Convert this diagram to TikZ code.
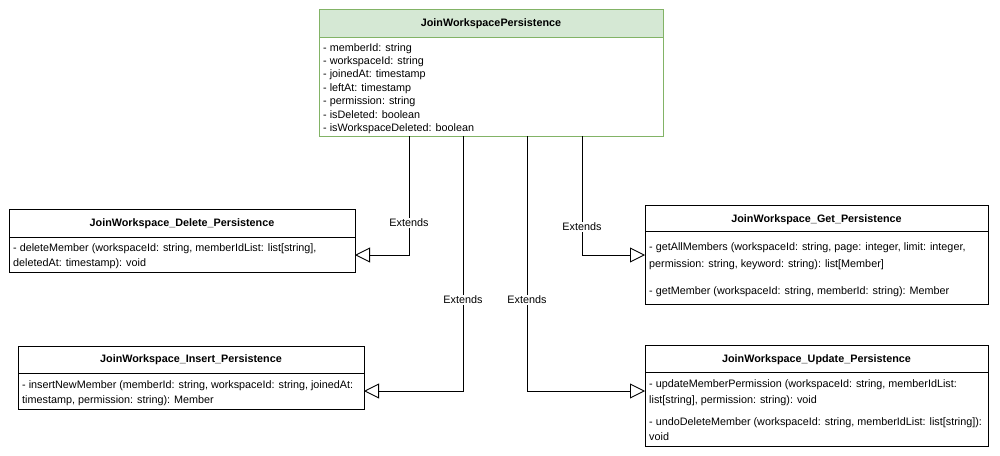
\documentclass[tikz,border=0pt]{standalone}
\usepackage{fontspec}
\setmainfont{Liberation Sans}
\usetikzlibrary{arrows.meta}
\definecolor{hdrfill}{HTML}{D5E8D4}
\definecolor{hdrline}{HTML}{82B366}
\tikzset{
  box/.style={draw=black, line width=0.9pt, fill=white},
  gbox/.style={draw=hdrline, line width=0.9pt, fill=white},
  ttl/.style={font=\fontsize{10.8}{13}\selectfont\bfseries, anchor=base, inner sep=0pt},
  txt/.style={font=\fontsize{10.8}{13}\selectfont, anchor=base west, inner sep=0pt},
  ext/.style={draw=black, line width=0.9pt, -{Triangle[open,length=15pt,width=15pt]}},
  lbl/.style={font=\fontsize{10.8}{13}\selectfont, fill=white, inner sep=1.5pt}
}
\begin{document}
\begin{tikzpicture}[x=1pt,y=-1pt]
\useasboundingbox (0,0) rectangle (1000,455);
% top class
\path[gbox] (319,9) rectangle (663,136);
\path[fill=hdrfill, draw=hdrline, line width=0.9pt] (319,9) rectangle (663,37);
\node[ttl] (ttop) at (491,26) {JoinWorkspacePersistence};
\node[txt] (a1) at (323,51) {- memberId: string};
\node[txt] (a2) at (323,64.4) {- workspaceId: string};
\node[txt] (a3) at (323,77.8) {- joinedAt: timestamp};
\node[txt] (a4) at (323,91.2) {- leftAt: timestamp};
\node[txt] (a5) at (323,104.6) {- permission: string};
\node[txt] (a6) at (323,118) {- isDeleted: boolean};
\node[txt] (a7) at (323,131.4) {- isWorkspaceDeleted: boolean};
% delete
\path[box] (9,209) rectangle (355,272);
\draw[line width=0.9pt] (9,237) -- (355,237);
\node[ttl] (tdel) at (182,226) {JoinWorkspace\_Delete\_Persistence};
\node[txt] (d1) at (13,251) {- deleteMember (workspaceId: string, memberIdList: list[string],};
\node[txt] (d2) at (13,266) {deletedAt: timestamp): void};
% get
\path[box] (645,205) rectangle (988,304);
\draw[line width=0.9pt] (645,231) -- (988,231);
\node[ttl] (tget) at (816.5,222) {JoinWorkspace\_Get\_Persistence};
\node[txt] (g1) at (649,250) {- getAllMembers (workspaceId: string, page: integer, limit: integer,};
\node[txt] (g2) at (649,267) {permission: string, keyword: string): list[Member]};
\node[txt] (g3) at (649,294) {- getMember (workspaceId: string, memberId: string): Member};
% insert
\path[box] (18,346) rectangle (364,409);
\draw[line width=0.9pt] (18,373) -- (364,373);
\node[ttl] (tins) at (191,362) {JoinWorkspace\_Insert\_Persistence};
\node[txt] (i1) at (22,388) {- insertNewMember (memberId: string, workspaceId: string, joinedAt:};
\node[txt] (i2) at (22,403) {timestamp, permission: string): Member};
% update
\path[box] (645,345) rectangle (988,446);
\draw[line width=0.9pt] (645,372) -- (988,372);
\node[ttl] (tupd) at (816.5,362) {JoinWorkspace\_Update\_Persistence};
\node[txt] (u1) at (649,387) {- updateMemberPermission (workspaceId: string, memberIdList:};
\node[txt] (u2) at (649,403) {list[string], permission: string): void};
\node[txt] (u3) at (649,425) {- undoDeleteMember (workspaceId: string, memberIdList: list[string]):};
\node[txt] (u4) at (649,440) {void};
% connector endpoints
\coordinate (s1) at (409,136);
\coordinate (s2) at (463,136);
\coordinate (s3) at (527,136);
\coordinate (s4) at (582,136);
\coordinate (e1) at (355,255);
\coordinate (e2) at (364,391);
\coordinate (e3) at (645,391);
\coordinate (e4) at (645,255);
\draw[ext] (s1) |- (e1);
\draw[ext] (s2) |- (e2);
\draw[ext] (s3) |- (e3);
\draw[ext] (s4) |- (e4);
\node[lbl] (l1) at (409,223) {Extends};
\node[lbl] (l2) at (463,300) {Extends};
\node[lbl] (l3) at (527,300) {Extends};
\node[lbl] (l4) at (582,227) {Extends};
\end{tikzpicture}
\end{document}
